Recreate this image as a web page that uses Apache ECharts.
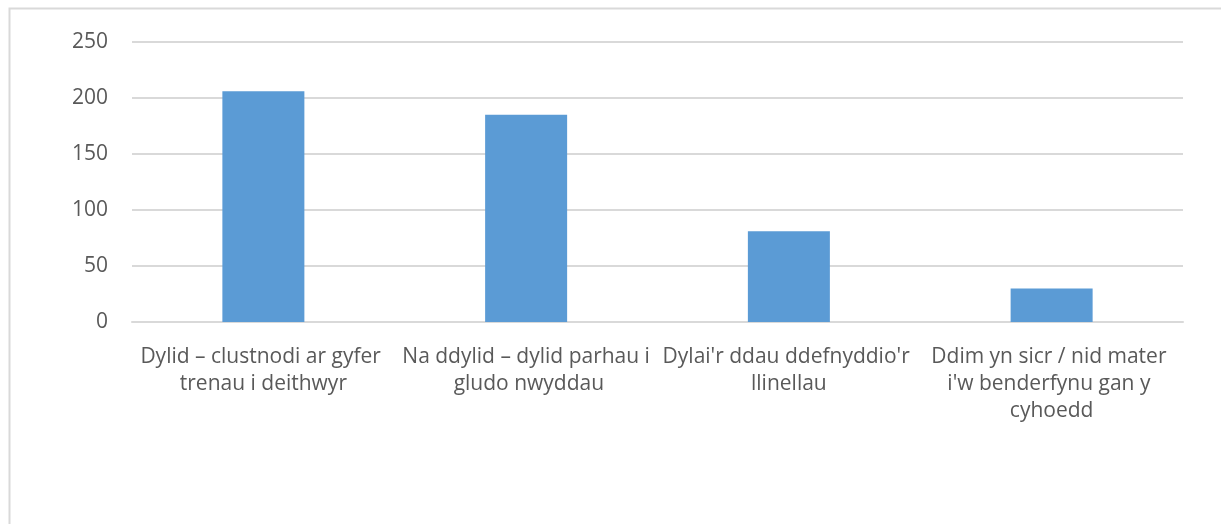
<!DOCTYPE html>
<html><head><meta charset="utf-8">
<script src="https://cdn.jsdelivr.net/npm/echarts@6/dist/echarts.min.js"></script>
<style>html,body{margin:0;padding:0;background:#fff}#c{width:1221px;height:524px}</style>
</head><body><div id="c"></div>
<script>
const categories = [
  "Dylid – clustnodi ar gyfer trenau i deithwyr",
  "Na ddylid – dylid parhau i gludo nwyddau",
  "Dylai'r ddau ddefnyddio'r llinellau",
  "Ddim yn sicr / nid mater i'w benderfynu gan y cyhoedd"
];
const values = [206, 185, 81, 30];
const yTicks = [0, 50, 100, 150, 200, 250];

const chart = echarts.init(document.getElementById('c'), null, {renderer: 'canvas'});
chart.setOption({
  animation: false,
  backgroundColor: '#fff',
  graphic: [{
    type: 'rect', left: 7, top: 6, silent: true,
    shape: {width: 1240, height: 540},
    style: {fill: 'none', stroke: '#d9d9d9', lineWidth: 2}
  }],
  grid: {left: 132, right: 38, top: 42, bottom: 202, containLabel: false},
  xAxis: {
    type: 'category', data: categories,
    axisLine: {show: true, lineStyle: {color: '#d9d9d9', width: 2}},
    axisTick: {show: false},
    axisLabel: {
      interval: 0, margin: 22, color: '#595959',
      fontFamily: 'Open Sans', fontSize: 21, lineHeight: 27,
      width: 262, overflow: 'break', align: 'center'
    }
  },
  yAxis: {
    type: 'value', min: yTicks[0], max: yTicks[yTicks.length - 1], interval: 50,
    axisLine: {show: false}, axisTick: {show: false},
    splitLine: {lineStyle: {color: '#d9d9d9', width: 2}},
    axisLabel: {margin: 24, color: '#595959', fontFamily: 'Open Sans', fontSize: 21}
  },
  series: [{
    type: 'bar', data: values, barWidth: 82,
    itemStyle: {color: '#5b9bd5'}
  }]
});
</script></body></html>
